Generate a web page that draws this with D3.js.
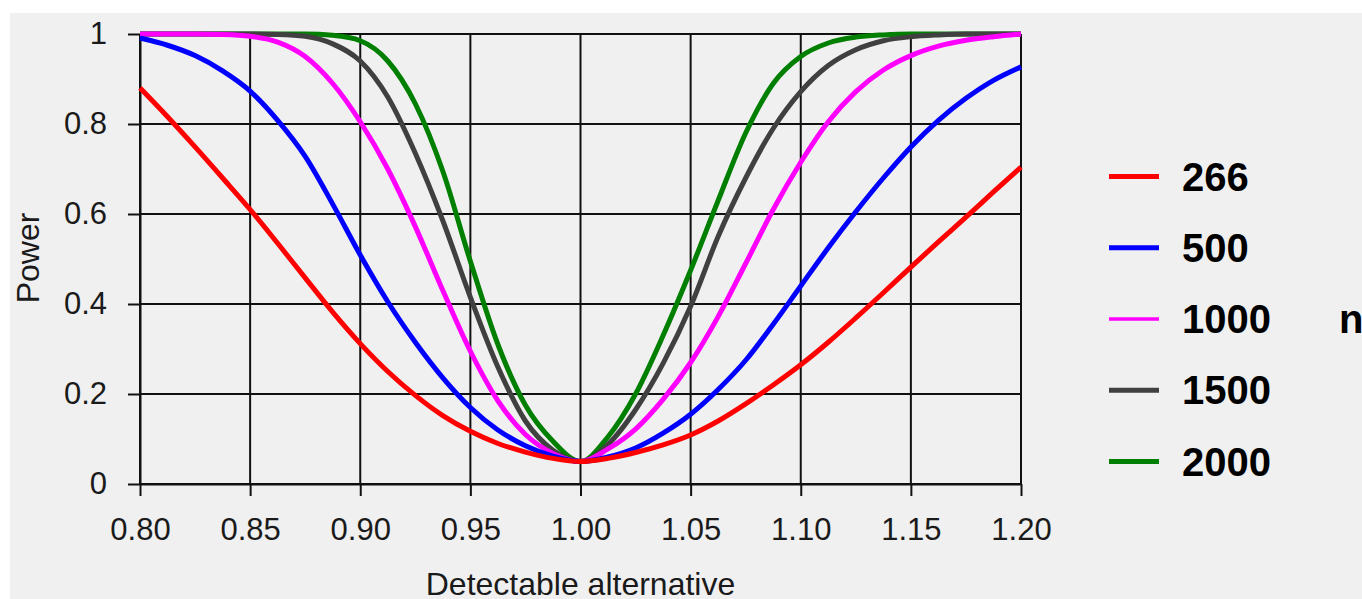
<!DOCTYPE html>
<html>
<head>
<meta charset="utf-8">
<script src="https://cdn.jsdelivr.net/npm/d3@7/dist/d3.min.js"></script>
<style>
  html, body { margin: 0; padding: 0; background: #ffffff; }
  svg { display: block; }
  text { font-family: "Liberation Sans", Arial, sans-serif; }
</style>
</head>
<body>
<script>
// ---- data ----
const alternatives = [0.8, 0.8125, 0.825, 0.8375, 0.85, 0.8625, 0.875, 0.8875, 0.9, 0.9125, 0.925, 0.9375, 0.95, 0.9625, 0.975, 0.9875, 1.0,
  1.0125, 1.025, 1.0375, 1.05, 1.0625, 1.075, 1.0875, 1.1, 1.1125, 1.125, 1.1375, 1.15, 1.1625, 1.175, 1.1875, 1.2];

const power266 = [0.88, 0.816, 0.749, 0.68, 0.61, 0.535, 0.458, 0.382, 0.312, 0.25, 0.197, 0.152, 0.117, 0.09, 0.071, 0.057, 0.05,
  0.057, 0.07, 0.087, 0.109, 0.14, 0.178, 0.22, 0.265, 0.315, 0.369, 0.425, 0.482, 0.538, 0.593, 0.649, 0.704];
const power500 = [0.991, 0.975, 0.952, 0.918, 0.873, 0.808, 0.728, 0.622, 0.509, 0.405, 0.315, 0.236, 0.17, 0.12, 0.085, 0.062, 0.05,
  0.06, 0.08, 0.113, 0.155, 0.21, 0.275, 0.355, 0.44, 0.525, 0.605, 0.68, 0.749, 0.808, 0.857, 0.897, 0.927];
const power1000 = [1, 1, 1, 0.999, 0.995, 0.982, 0.95, 0.89, 0.805, 0.70, 0.572, 0.43, 0.295, 0.185, 0.11, 0.068, 0.05,
  0.078, 0.122, 0.188, 0.27, 0.372, 0.49, 0.61, 0.715, 0.805, 0.872, 0.92, 0.952, 0.973, 0.986, 0.994, 1];
const power1500 = [1, 1, 1, 1, 1, 0.999, 0.995, 0.978, 0.94, 0.86, 0.735, 0.585, 0.415, 0.26, 0.14, 0.075, 0.05,
  0.088, 0.165, 0.268, 0.395, 0.55, 0.68, 0.79, 0.872, 0.93, 0.965, 0.985, 0.994, 0.998, 1, 1, 1];
const power2000 = [1, 1, 1, 1, 1, 1, 1, 0.997, 0.985, 0.94, 0.845, 0.695, 0.495, 0.31, 0.175, 0.095, 0.05,
  0.105, 0.2, 0.33, 0.475, 0.63, 0.78, 0.89, 0.95, 0.98, 0.993, 0.998, 1, 1, 1, 1, 1];

const seriesNames = ["266", "500", "1000", "1500", "2000"];
const seriesColors = ["#ff0000", "#0000ff", "#ff00ff", "#404040", "#007f00"];
const seriesValues = [power266, power500, power1000, power1500, power2000];

const xTickValues = [0.80, 0.85, 0.90, 0.95, 1.00, 1.05, 1.10, 1.15, 1.20];
const yTickValues = [0, 0.2, 0.4, 0.6, 0.8, 1];
const yTickLabels = ["0", "0.2", "0.4", "0.6", "0.8", "1"];

const xTitle = "Detectable alternative";
const yTitle = "Power";
const legendTitle = "n";

// ---- layout ----
const W = 1362, H = 599;
const plot = { left: 140, right: 1021, top: 34, bottom: 484 };

const svg = d3.select("body").append("svg").attr("width", W).attr("height", H);
svg.append("rect").attr("width", W).attr("height", H).attr("fill", "#ffffff");
svg.append("rect").attr("x", 10).attr("y", 13).attr("width", W - 10).attr("height", H - 13).attr("fill", "#f0f0f0");

const x = d3.scaleLinear().domain([0.8, 1.2]).range([plot.left, plot.right]);
const y = d3.scaleLinear().domain([0, 1]).range([plot.bottom, plot.top]);

// grid
const grid = svg.append("g").attr("stroke", "#111").attr("stroke-width", 2);
grid.selectAll("line.v").data(xTickValues).join("line")
  .attr("x1", d => x(d)).attr("x2", d => x(d)).attr("y1", plot.top).attr("y2", plot.bottom);
grid.selectAll("line.h").data(yTickValues).join("line")
  .attr("x1", plot.left).attr("x2", plot.right).attr("y1", d => y(d)).attr("y2", d => y(d));

// axes
const xAxis = d3.axisBottom(x).tickValues(xTickValues).tickFormat(d3.format(".2f"))
  .tickSizeInner(12).tickSizeOuter(0).tickPadding(22);
const gx = svg.append("g").attr("transform", `translate(0,${plot.bottom})`).call(xAxis);
const yAxis = d3.axisLeft(y).tickValues(yTickValues).tickFormat((d, i) => yTickLabels[i])
  .tickSizeInner(12).tickSizeOuter(0).tickPadding(21);
const gy = svg.append("g").attr("transform", `translate(${plot.left},0)`).call(yAxis);
[gx, gy].forEach(g => {
  g.select(".domain").attr("stroke", "#111").attr("stroke-width", 2);
  g.selectAll(".tick line").attr("stroke", "#111").attr("stroke-width", 2);
  g.selectAll(".tick text").attr("fill", "#1a1a1a").style("font-size", "31px")
    .style("font-family", "'Liberation Sans', Arial, sans-serif");
});

// curves (largest n first so the smallest lies on top)
const line = d3.line().x((d, i) => x(alternatives[i])).y(d => y(d)).curve(d3.curveMonotoneX);
const order = [4, 3, 2, 1, 0];
svg.append("g").selectAll("path").data(order).join("path")
  .attr("d", k => line(seriesValues[k]))
  .attr("fill", "none")
  .attr("stroke", k => seriesColors[k])
  .attr("stroke-width", 5)
  .attr("stroke-linejoin", "round");

// titles
svg.append("text").attr("x", (plot.left + plot.right) / 2).attr("y", 595)
  .attr("text-anchor", "middle").attr("fill", "#1a1a1a").style("font-size", "32px").text(xTitle);
svg.append("text").attr("transform", `translate(39,258) rotate(-90)`)
  .attr("text-anchor", "middle").attr("fill", "#1a1a1a").style("font-size", "32px").text(yTitle);

// legend
const legendY = d3.scalePoint().domain(seriesNames).range([176.5, 461.5]);
const lg = svg.append("g");
seriesNames.forEach((name, k) => {
  lg.append("line").attr("x1", 1109).attr("x2", 1159)
    .attr("y1", legendY(name)).attr("y2", legendY(name))
    .attr("stroke", seriesColors[k]).attr("stroke-width", k === 2 ? 3.5 : 5);
  lg.append("text").attr("x", 1182).attr("y", legendY(name)).attr("dy", "0.35em")
    .attr("fill", "#000").style("font-size", "40px").style("font-weight", "bold").text(name);
});
lg.append("text").attr("x", 1339).attr("y", legendY("1000")).attr("dy", "0.35em")
  .attr("fill", "#000").style("font-size", "40px").style("font-weight", "bold").text(legendTitle);
</script>
</body>
</html>
